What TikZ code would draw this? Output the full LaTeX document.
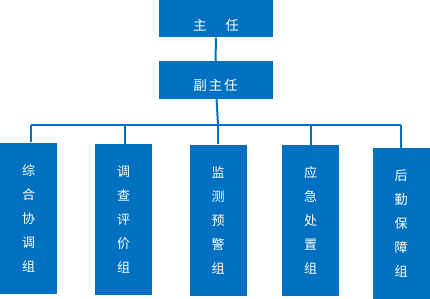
\documentclass[tikz,border=0pt]{standalone}
\usepackage{fontspec}
\newfontfamily\cjk{Noto Sans CJK SC}
\usetikzlibrary{positioning, calc}
\definecolor{orgblue}{HTML}{0070C0}

\begin{document}
\begin{tikzpicture}[x=1pt, y=-1pt,
  headbox/.style={fill=orgblue, text=white, minimum width=114pt, minimum height=38pt,
    inner sep=0pt, text depth=0pt, font=\cjk\fontsize{13.5}{14}\selectfont},
  groupbox/.style={fill=orgblue, text=white, minimum width=57pt, minimum height=151pt,
    inner sep=0pt, align=center, font=\cjk\fontsize{13}{24}\selectfont},
  link/.style={draw=orgblue, line width=2pt}]
  \useasboundingbox (0,0) rectangle (430,299);
  \node[headbox, text height=25pt] (zhuren)   at (216,18.5) {主\hspace{19pt}任};
  \node[headbox, text height=22pt] (fuzhuren) at (215.5,80) {副\hspace{2pt}主\hspace{2pt}任};
  \node[groupbox] (zonghe)  at (28.5,218)  {综\\合\\协\\调\\组};
  \node[groupbox] (diaocha) at (123.5,219.5) {调\\查\\评\\价\\组};
  \node[groupbox] (jiance)  at (218,220)   {监\\测\\预\\警\\组};
  \node[groupbox] (yingji)  at (310.5,220.5) {应\\急\\处\\置\\组};
  \node[groupbox] (houqin)  at (401,223.5) {后\\勤\\保\\障\\组};
  \coordinate (bus) at (218,125);
  \draw[link] (zhuren) -- (fuzhuren);
  \draw[link] (fuzhuren) -- (bus);
  \draw[link] ([xshift=2.5pt]zonghe.north |- bus) -- (houqin.north |- bus);
  \draw[link] ([xshift=2.5pt]zonghe.north) -- ([xshift=2.5pt]zonghe.north |- bus);
  \draw[link] ([xshift=1.5pt]diaocha.north) -- ([xshift=1.5pt]diaocha.north |- bus);
  \draw[link] (jiance.north) -- (jiance.north |- bus);
  \draw[link] (yingji.north) -- (yingji.north |- bus);
  \draw[link] (houqin.north) -- (houqin.north |- bus);
\end{tikzpicture}
\end{document}
